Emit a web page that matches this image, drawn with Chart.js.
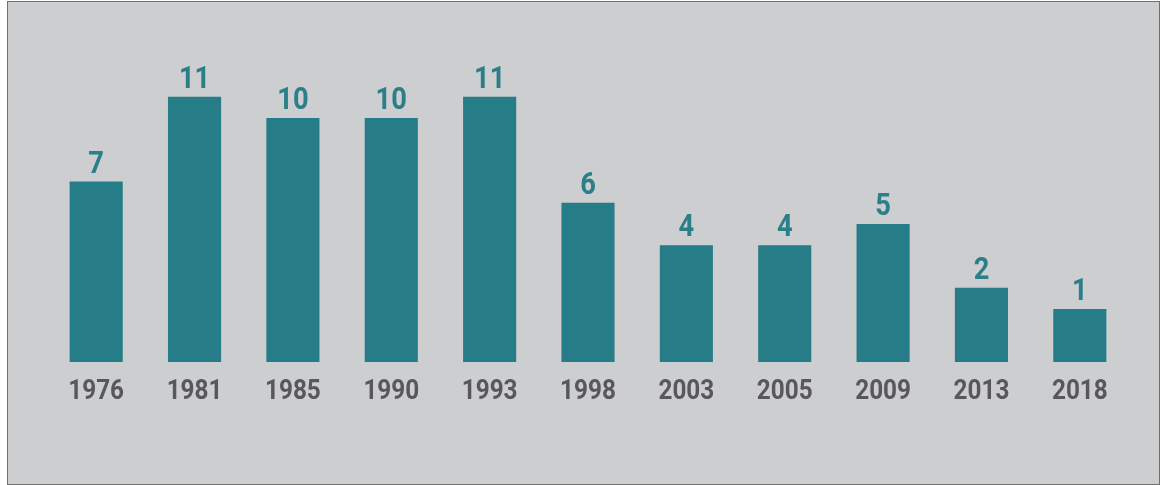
<!DOCTYPE html>
<html>
<head>
<meta charset="utf-8">
<script src="https://cdn.jsdelivr.net/npm/chart.js@4"></script>
<style>
    html, body { margin: 0; padding: 0; background: #ffffff; }
    .frame {
        position: absolute;
        left: 7px;
        top: 1px;
        width: 1153px;
        height: 484px;
        box-sizing: border-box;
        border: 1px solid #707070;
        background: #cdced0;
    }
    .frame canvas { display: block; }
</style>
</head>
<body>
<div class="frame">
    <canvas id="chart" width="1151" height="482"></canvas>
</div>
<script>
const years = ['1976', '1981', '1985', '1990', '1993', '1998', '2003', '2005', '2009', '2013', '2018'];
const counts = [7, 11, 10, 10, 11, 6, 4, 4, 5, 2, 1];

const barColor = '#267d87';
const valueColor = '#2a7f89';
const tickColor = '#58585a';
const fontFamily = 'Roboto, "Liberation Sans", sans-serif';

// draws text squeezed horizontally, to look like a condensed face
function narrowText(ctx, text, x, y, squeeze) {
    ctx.save();
    ctx.translate(x, y);
    ctx.scale(squeeze, 1);
    ctx.fillText(text, 0, 0);
    ctx.restore();
}

// value labels above bars
const valueLabels = {
    id: 'valueLabels',
    afterDatasetsDraw(chart) {
        const ctx = chart.ctx;
        const meta = chart.getDatasetMeta(0);
        ctx.save();
        ctx.fillStyle = valueColor;
        ctx.font = `bold 31px ${fontFamily}`;
        ctx.textAlign = 'center';
        ctx.textBaseline = 'alphabetic';
        meta.data.forEach((bar, i) => {
            narrowText(ctx, String(counts[i]), bar.x, bar.y - 9, 0.88);
        });
        ctx.restore();
    },
};

// category labels under the bars
const yearLabels = {
    id: 'yearLabels',
    afterDraw(chart) {
        const ctx = chart.ctx;
        const xScale = chart.scales.x;
        const baseline = chart.chartArea.bottom + 37;
        ctx.save();
        ctx.fillStyle = tickColor;
        ctx.font = `bold 27px ${fontFamily}`;
        ctx.textAlign = 'center';
        ctx.textBaseline = 'alphabetic';
        chart.data.labels.forEach((label, i) => {
            narrowText(ctx, label, xScale.getPixelForTick(i), baseline, 0.9);
        });
        ctx.restore();
    },
};

new Chart(document.getElementById('chart'), {
    type: 'bar',
    data: {
        labels: years,
        datasets: [{
            data: counts,
            backgroundColor: barColor,
            base: -1.5,
            barPercentage: 0.54,
            categoryPercentage: 1,
        }],
    },
    options: {
        responsive: false,
        animation: false,
        layout: { padding: { left: 39, right: 30, top: 48, bottom: 122 } },
        plugins: {
            legend: { display: false },
            tooltip: { enabled: false },
        },
        scales: {
            x: { display: false },
            y: {
                display: false,
                min: -1.5,
                max: 13.2,
            },
        },
    },
    plugins: [valueLabels, yearLabels],
});
</script>
</body>
</html>
